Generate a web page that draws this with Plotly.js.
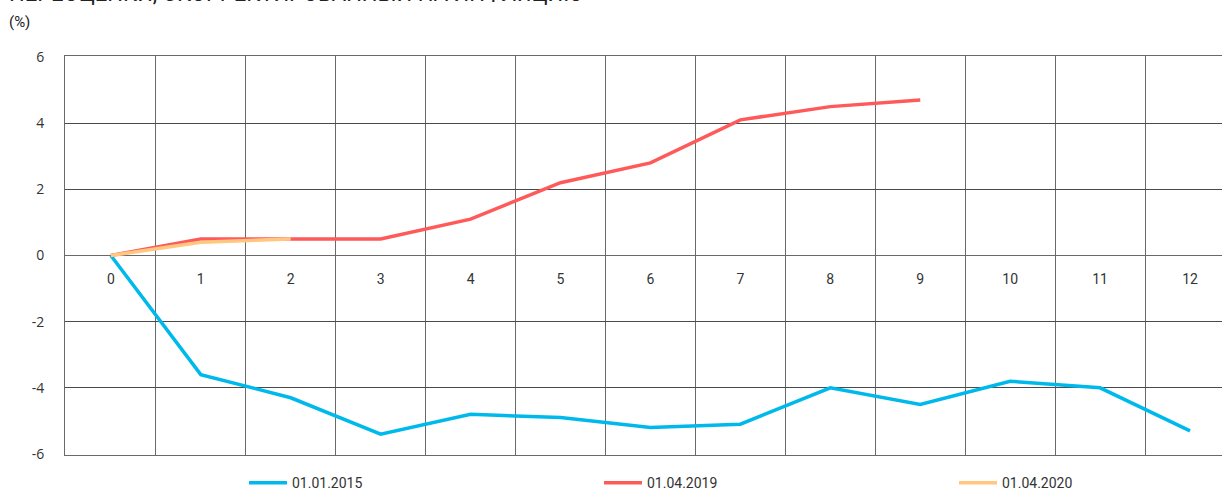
<!DOCTYPE html>
<html>
<head>
<meta charset="utf-8">
<script src="https://cdn.plot.ly/plotly-3.0.1.min.js"></script>
<style>
html,body{margin:0;padding:0;overflow:hidden;background:#fff;width:1222px;height:491px;}
#chart{width:1250px;height:491px;}
</style>
</head>
<body>
<div id="chart"></div>
<script>
const months = ['0','1','2','3','4','5','6','7','8','9','10','11','12'];
const series2015 = [0, -3.6, -4.3, -5.4, -4.8, -4.9, -5.2, -5.1, -4.0, -4.5, -3.8, -4.0, -5.3];
const series2019 = [0, 0.5, 0.5, 0.5, 1.1, 2.2, 2.8, 4.1, 4.5, 4.7];
const series2020 = [0, 0.4, 0.5];
const seriesNames = ['01.01.2015', '01.04.2019', '01.04.2020'];
const yTicks = [-6, -4, -2, 0, 2, 4, 6];
const titleLine = 'ПЕРЕОЦЕНКИ, СКОРРЕКТИРОВАННЫЙ НА ИНФЛЯЦИЮ';
const unitLine = '(%)';

const colors = ['#00B9EC', '#FF5A5A', '#FFC77F'];

const traces = [
  {x: months.slice(0, series2015.length), y: series2015, name: seriesNames[0], xaxis: 'x'},
  {x: months.slice(0, series2019.length), y: series2019, name: seriesNames[1], xaxis: 'x'},
  {x: months.slice(0, series2020.length), y: series2020, name: seriesNames[2], xaxis: 'x2'}
].map((t, i) => Object.assign(t, {
  type: 'scatter', mode: 'lines',
  line: {color: colors[i], width: 3.5},
  hoverinfo: 'skip'
}));

const layout = {
  width: 1250, height: 491,
  margin: {l: 65, r: 15, t: 56, b: 36},
  paper_bgcolor: '#fff', plot_bgcolor: '#fff',
  font: {family: 'Open Sans, sans-serif', size: 14, color: '#333'},
  showlegend: true,
  legend: {
    orientation: 'h', xref: 'container', yref: 'container',
    x: 0.1952, xanchor: 'left', y: 0.016, yanchor: 'middle',
    entrywidth: 302, entrywidthmode: 'pixels',
    font: {family: 'Roboto, sans-serif', size: 14, color: '#333'},
    itemwidth: 38, tracegroupgap: 0
  },
  xaxis: {
    type: 'category', categoryorder: 'array', categoryarray: months,
    tickvals: months, ticktext: months,
    range: [-0.51, 12.5], tickson: 'boundaries',
    anchor: 'free', position: 0.5,
    showline: false, ticks: '', ticklabelstandoff: 13,
    tickfont: {family: 'Roboto, sans-serif', size: 14, color: '#333'},
    showgrid: true, gridcolor: '#6a6a6a', gridwidth: 1,
    zeroline: false, fixedrange: true
  },
  xaxis2: {
    type: 'category', categoryorder: 'array', categoryarray: months,
    overlaying: 'x', anchor: 'y', side: 'bottom',
    range: [-0.51, 12.5], showgrid: false, zeroline: false,
    showline: true, mirror: true, linecolor: '#6a6a6a', linewidth: 1,
    showticklabels: false, ticks: '', fixedrange: true
  },
  yaxis: {
    range: [-6.03, 6.03], tickvals: yTicks, ticktext: yTicks.map(String),
    showgrid: true, gridcolor: '#4a4a4a', gridwidth: 1,
    zeroline: true, zerolinecolor: '#6a6a6a', zerolinewidth: 1,
    showline: true, linecolor: '#6a6a6a', linewidth: 1,
    ticks: '', ticklabelstandoff: 17,
    domain: [0, 1], fixedrange: true
  },
  annotations: [
    {xref: 'paper', yref: 'paper', x: 0, y: 1, xanchor: 'left', yanchor: 'bottom',
     xshift: -58, yshift: 48, text: titleLine, showarrow: false,
     font: {family: 'Roboto, sans-serif', size: 22, color: '#222'}},
    {xref: 'paper', yref: 'paper', x: 0, y: 1, xanchor: 'left', yanchor: 'bottom',
     xshift: -58, yshift: 23, text: unitLine, showarrow: false,
     font: {family: 'Roboto, sans-serif', size: 15, color: '#222'}}
  ]
};

Plotly.newPlot('chart', traces, layout, {displayModeBar: false, staticPlot: true});
</script>
</body>
</html>
